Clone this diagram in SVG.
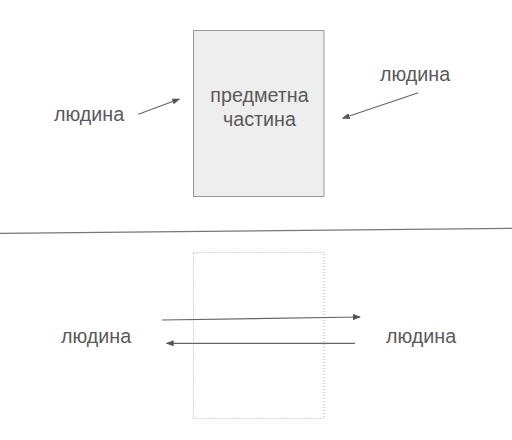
<svg xmlns="http://www.w3.org/2000/svg" width="512" height="440" viewBox="0 0 512 440">
<style>
text{font-family:"Liberation Sans",Arial,sans-serif;font-size:19.7px;fill:#595959}
.c{stroke:#666;stroke-width:1.2;fill:none}
</style>
<defs>
<marker id="ah" markerWidth="8" markerHeight="6" refX="7" refY="3" orient="auto" markerUnits="userSpaceOnUse">
<path d="M0,0 L8,3 L0,6 Z" fill="#555"/>
</marker>
</defs>
<rect width="512" height="440" fill="#fff"/>
<g id="subject">
<rect x="193.5" y="30.5" width="130.5" height="166" fill="#eeeeee" stroke="#999" stroke-width="1"/>
<text x="259.5" y="101.5" text-anchor="middle">предметна</text>
<text x="259.5" y="126" text-anchor="middle">частина</text>
</g>
<g id="person-top-left"><text x="54" y="121">людина</text></g>
<g id="person-top-right"><text x="380" y="80.5">людина</text></g>
<g id="divider"><line x1="0" y1="233.3" x2="512" y2="228.3" stroke="#777" stroke-width="1.2"/></g>
<g id="empty-box"><rect x="193.5" y="252.5" width="130.5" height="166" fill="none" stroke="#aaa" stroke-width="1" stroke-dasharray="1,2"/></g>
<g id="person-bottom-left"><text x="61" y="343">людина</text></g>
<g id="person-bottom-right"><text x="386" y="343">людина</text></g>
<g id="connectors">
<line class="c" x1="138.3" y1="114.3" x2="179.3" y2="99" marker-end="url(#ah)"/>
<line class="c" x1="418.3" y1="92.7" x2="342.7" y2="118.3" marker-end="url(#ah)"/>
<line class="c" x1="162" y1="320" x2="360" y2="317" marker-end="url(#ah)"/>
<line class="c" x1="355" y1="343.3" x2="166.7" y2="343.3" marker-end="url(#ah)"/>
</g>
</svg>
